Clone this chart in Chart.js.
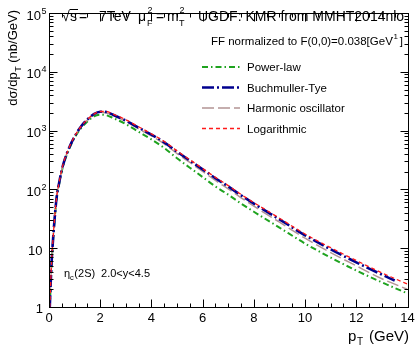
<!DOCTYPE html>
<html>
<head>
<meta charset="utf-8">
<script src="https://cdn.jsdelivr.net/npm/chart.js@4.4.1/dist/chart.umd.min.js"></script>
<style>
  body { margin: 0; background: #fff; }
  canvas { display: block; }
</style>
</head>
<body>
<canvas id="etaChart" width="415" height="349"></canvas>
<script>
// pT grid (GeV) and dsigma/dpT (nb/GeV)
var ptValues = [0.03, 0.1, 0.15, 0.2, 0.3, 0.4, 0.5, 0.6, 0.8, 1.0, 1.25, 1.5, 1.75, 2.0, 2.25, 2.5,
    3.0, 3.5, 4.0, 4.5, 5.0, 5.5, 6.0, 6.5, 7.0, 7.5, 8.0, 9.0, 10.0, 11.0, 12.0, 13.0, 13.5, 14.0];

var powerLaw = [0.95, 5.4, 12.0, 24, 71, 126, 204, 295, 501, 759, 1096, 1429, 1738, 1862, 1820, 1641,
    1288, 955, 708, 507, 339, 234, 162, 112, 81.3, 57.5, 41.7, 22.4, 12.0, 6.92, 4.17, 2.63, 2.11, 1.70];
var buchmullerTye = [1.0, 5.6, 12.6, 25, 74, 132, 214, 309, 525, 794, 1175, 1549, 1905, 2089, 2065, 1862,
    1479, 1122, 851, 631, 437, 309, 219, 155, 112, 79.4, 57.5, 30.9, 16.6, 9.55, 5.75, 3.55, 2.82, null];
var harmonicOsc = [1.0, 5.6, 12.6, 25, 74, 132, 214, 309, 519, 785, 1148, 1514, 1862, 2042, 1995, 1811,
    1429, 1072, 813, 596, 407, 287, 202, 142, 102, 72.1, 51.9, 27.7, 14.8, 8.41, 5.01, 3.02, 2.45, 2.0];
var logarithmic = [1.0, 5.75, 12.9, 25.7, 75.9, 135, 219, 316, 531, 804, 1175, 1549, 1905, 2113, 2113, 1905,
    1531, 1161, 881, 653, 452, 320, 226, 160, 116, 82.2, 59.6, 32.4, 17.4, 10.2, 6.17, 3.80, 3.05, 2.45];

var xTickLabels = [0, 2, 4, 6, 8, 10, 12, 14];
var yTickExponents = [0, 1, 2, 3, 4, 5];
var seriesLabels = ['Power-law', 'Buchmuller-Tye', 'Harmonic oscillator', 'Logarithmic'];

var FONT = '"Liberation Sans", Arial, sans-serif';

function toPoints(ys) {
    var pts = [];
    for (var i = 0; i < ptValues.length; i++) {
        if (ys[i] != null) pts.push({ x: ptValues[i], y: ys[i] });
    }
    return pts;
}

function seg(ctx, x1, y1, x2, y2) {
    ctx.beginPath();
    ctx.moveTo(x1, y1);
    ctx.lineTo(x2, y2);
    ctx.stroke();
}

function txt(ctx, s, x, y, size, align) {
    ctx.font = size + 'px ' + FONT;
    ctx.textAlign = align || 'left';
    ctx.fillText(s, x, y);
    return ctx.measureText(s).width;
}

// ROOT-like frame, inward ticks, labels, legend and captions
var rootStyle = {
    id: 'rootStyle',
    afterDatasetsDraw: function (chart) {
        var ctx = chart.ctx, a = chart.chartArea;
        var xs = chart.scales.x, ys = chart.scales.y;
        ctx.save();
        ctx.strokeStyle = '#000';
        ctx.fillStyle = '#000';
        ctx.lineWidth = 1;
        ctx.setLineDash([]);
        ctx.textBaseline = 'alphabetic';

        var L = Math.round(a.left) + 0.5, R = Math.round(a.right) + 0.5;
        var T = Math.round(a.top) + 0.5, B = Math.round(a.bottom) + 0.5;
        ctx.strokeRect(L, T, R - L, B - T);

        // x ticks every 0.5, major every 2
        for (var k = 0; k <= 28; k++) {
            var v = k * 0.5;
            var px = Math.round(xs.getPixelForValue(v)) + 0.5;
            var len = (k % 4 === 0) ? 8 : 4;
            seg(ctx, px, B, px, B - len);
            seg(ctx, px, T, px, T + len);
        }
        // y log ticks
        for (var e = 0; e < 5; e++) {
            for (var m = 1; m <= 9; m++) {
                var py = Math.round(ys.getPixelForValue(m * Math.pow(10, e))) + 0.5;
                var ln = (m === 1) ? 8 : 4;
                seg(ctx, L, py, L + ln, py);
                seg(ctx, R, py, R - ln, py);
            }
        }

        // x tick labels
        xTickLabels.forEach(function (v) {
            txt(ctx, String(v), xs.getPixelForValue(v), 322, 13, 'center');
        });
        // y tick labels
        yTickExponents.forEach(function (n) {
            var py = ys.getPixelForValue(Math.pow(10, n));
            if (n === 0) {
                txt(ctx, '1', 43, py + 6, 13, 'right');
            } else if (n === 1) {
                txt(ctx, '10', 42.5, py + 6.5, 13, 'right');
            } else {
                txt(ctx, '10', 41, py + 6.5, 13, 'right');
                txt(ctx, String(n), 41.5, py + 0.5, 9, 'left');
            }
        });

        // axis titles
        ctx.save();
        ctx.translate(17, 10);
        ctx.rotate(-Math.PI / 2);
        ctx.font = '13px ' + FONT;
        ctx.textAlign = 'right';
        var w1 = ctx.measureText(' (nb/GeV)').width;
        ctx.fillText(' (nb/GeV)', 0, 0);
        ctx.font = '9px ' + FONT;
        var wT = ctx.measureText('T').width;
        ctx.fillText('T', -w1, 4);
        ctx.font = '13px ' + FONT;
        ctx.fillText('d\u03c3/dp', -w1 - wT - 0.5, 0);
        ctx.restore();

        txt(ctx, 'p', 348, 341, 15, 'left');
        txt(ctx, 'T', 357, 345, 10, 'left');
        txt(ctx, '(GeV)', 369, 341, 15, 'left');

        // header line
        txt(ctx, '\u221a', 62, 21, 14, 'left');
        var sw = txt(ctx, 's', 70, 21, 14, 'left');
        seg(ctx, 69.5, 9.5, 70 + sw + 1, 9.5);
        txt(ctx, '=', 79, 21, 14, 'left');
        txt(ctx, '7TeV', 99, 21, 14, 'left');
        txt(ctx, '\u03bc', 138, 21, 14, 'left');
        txt(ctx, 'F', 147, 26, 9, 'left');
        txt(ctx, '2', 147.5, 13, 9, 'left');
        txt(ctx, '=', 156, 21, 14, 'left');
        txt(ctx, 'm', 167, 21, 14, 'left');
        txt(ctx, 'T', 179, 26, 9, 'left');
        txt(ctx, '2', 179.5, 13, 9, 'left');
        txt(ctx, 'UGDF: KMR from MMHT2014nlo', 198, 21, 14, 'left');

        // normalisation line
        ctx.font = '11.5px ' + FONT;
        var ffMain = 'FF normalized to F(0,0)=0.038[GeV';
        var ffW = ctx.measureText(ffMain).width;
        var ffEnd = 403;
        var supW = 7, brW = ctx.measureText(']').width;
        var ffStart = ffEnd - brW - supW - ffW;
        txt(ctx, ffMain, ffStart, 45, 11.5, 'left');
        txt(ctx, '-1', ffStart + ffW - 2, 39, 8, 'left');
        txt(ctx, ']', ffEnd - brW, 45, 11.5, 'left');

        // legend
        var rows = [67, 87.5, 108, 128.5];
        chart.data.datasets.forEach(function (ds, i) {
            var y = rows[i];
            ctx.save();
            ctx.strokeStyle = ds.borderColor;
            ctx.lineWidth = ds.borderWidth;
            ctx.setLineDash(ds.borderDash);
            seg(ctx, 202, y, 240, y);
            ctx.restore();
            txt(ctx, ds.label, 247, y + 4, 11.5, 'left');
        });

        // state label
        var ex = 64;
        ex += txt(ctx, '\u03b7', ex, 277, 11, 'left');
        ex += txt(ctx, 'c', ex, 280, 7.5, 'left');
        txt(ctx, '(2S)', ex + 0.5, 277, 11, 'left');
        txt(ctx, '2.0<y<4.5', 150, 277, 11, 'right');

        ctx.restore();
    }
};

var chart = new Chart(document.getElementById('etaChart').getContext('2d'), {
    type: 'line',
    data: {
        datasets: [
            {
                label: seriesLabels[0],
                data: toPoints(powerLaw),
                borderColor: '#1fa31f',
                borderWidth: 2,
                borderDash: [6, 3, 1.5, 3],
                order: 4
            },
            {
                label: seriesLabels[1],
                data: toPoints(buchmullerTye),
                borderColor: '#00008f',
                borderWidth: 2.6,
                borderDash: [12, 3, 2, 3],
                order: 2
            },
            {
                label: seriesLabels[2],
                data: toPoints(harmonicOsc),
                borderColor: '#b39494',
                borderWidth: 1.5,
                borderDash: [12, 4],
                order: 3
            },
            {
                label: seriesLabels[3],
                data: toPoints(logarithmic),
                borderColor: '#ff1a1a',
                borderWidth: 1.3,
                borderDash: [4, 3],
                order: 1
            }
        ]
    },
    options: {
        responsive: false,
        animation: false,
        devicePixelRatio: 1,
        layout: { padding: { left: 49, right: 7.5, top: 13, bottom: 42 } },
        elements: {
            point: { radius: 0 },
            line: { fill: false, cubicInterpolationMode: 'monotone' }
        },
        plugins: { legend: { display: false }, tooltip: { enabled: false } },
        scales: {
            x: { type: 'linear', min: 0, max: 14, display: false },
            y: { type: 'logarithmic', min: 1, max: 100000, display: false }
        }
    },
    plugins: [rootStyle]
});
</script>
</body>
</html>
